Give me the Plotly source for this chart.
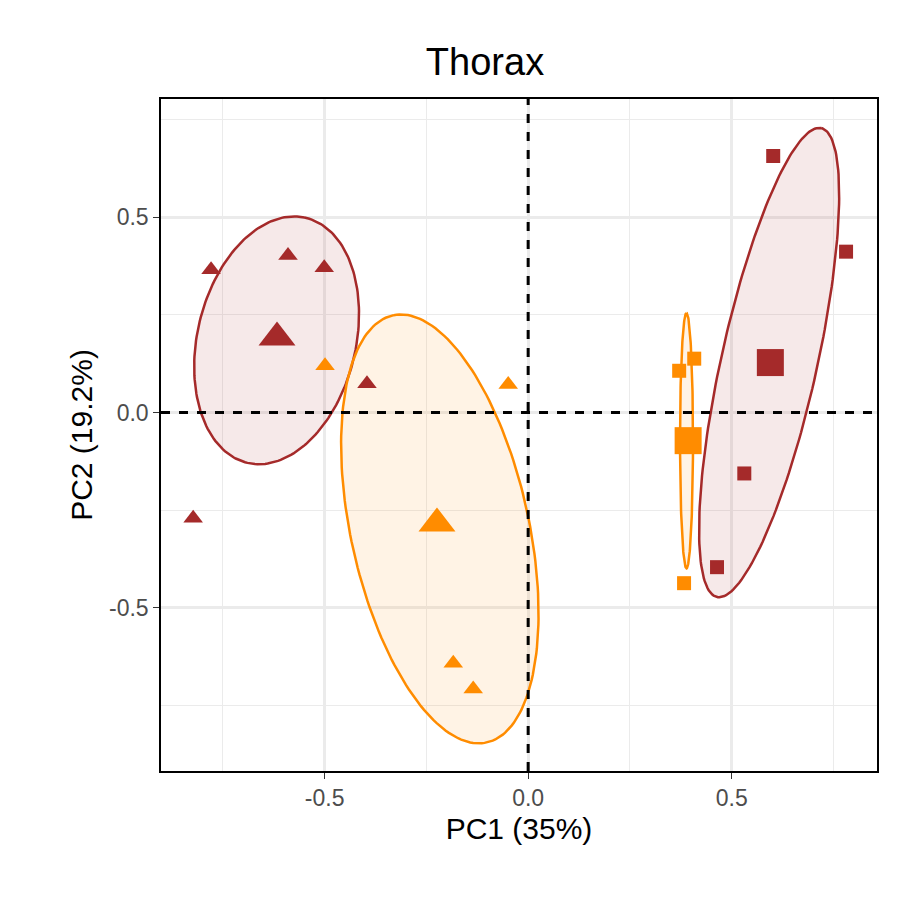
import numpy as np
import plotly.graph_objects as go

RED = "#A52A2A"
ORANGE = "#FF8C00"

# points
red_tri_x = [-0.779, -0.590, -0.501, -0.396, -0.823]
red_tri_y = [0.366, 0.402, 0.371, 0.074, -0.271]
org_tri_x = [-0.499, -0.049, -0.184, -0.135]
org_tri_y = [0.120, 0.072, -0.642, -0.708]
org_sq_x = [0.371, 0.408, 0.383]
org_sq_y = [0.107, 0.138, -0.437]
red_sq_x = [0.602, 0.781, 0.531, 0.464]
red_sq_y = [0.657, 0.412, -0.156, -0.396]

# centroids
cent_x = [-0.617, -0.224, 0.393, 0.595]
cent_y = [0.192, -0.284, -0.072, 0.128]
cent_col = [RED, ORANGE, ORANGE, RED]
cent_sym = ["triangle-up", "triangle-up", "square", "square"]

# ellipses: center x, center y, semi-major, semi-minor, angle (deg), colour
ell_cx = [-0.618, -0.217, 0.389, 0.592]
ell_cy = [0.185, -0.298, -0.072, 0.128]
ell_a = [0.322, 0.559, 0.327, 0.614]
ell_b = [0.195, 0.219, 0.016, 0.118]
ell_ang = [77.7, 101.7, 90.0, 78.0]
ell_col = [RED, ORANGE, ORANGE, RED]
ell_fill = ["rgba(165,42,42,0.1)", "rgba(255,140,0,0.1)", "rgba(255,140,0,0.1)", "rgba(165,42,42,0.1)"]

tick_vals = [-0.5, 0.0, 0.5]
tick_text = ["-0.5", "0.0", "0.5"]

fig = go.Figure()
t = np.linspace(0, 2 * np.pi, 200)
for cx, cy, a, b, ang, c, f in zip(ell_cx, ell_cy, ell_a, ell_b, ell_ang, ell_col, ell_fill):
    th = np.deg2rad(ang)
    ex = cx + a * np.cos(t) * np.cos(th) - b * np.sin(t) * np.sin(th)
    ey = cy + a * np.cos(t) * np.sin(th) + b * np.sin(t) * np.cos(th)
    fig.add_trace(go.Scatter(x=ex, y=ey, mode="lines", fill="toself", fillcolor=f,
                             line=dict(color=c, width=2.5), hoverinfo="skip"))

def pts(x, y, col, sym, size):
    fig.add_trace(go.Scatter(x=x, y=y, mode="markers",
                             marker=dict(color=col, symbol=sym, size=size, line=dict(width=0))))

pts(red_tri_x, red_tri_y, RED, "triangle-up", 17)
pts(org_tri_x, org_tri_y, ORANGE, "triangle-up", 17)
pts(org_sq_x, org_sq_y, ORANGE, "square", 14)
pts(red_sq_x, red_sq_y, RED, "square", 14)
for x, y, c, s in zip(cent_x, cent_y, cent_col, cent_sym):
    pts([x], [y], c, s, 32 if s == "triangle-up" else 27)

fig.add_shape(type="line", x0=0, x1=0, y0=0, y1=1, yref="paper",
              line=dict(color="black", width=3, dash="dash"))
fig.add_shape(type="line", y0=0, y1=0, x0=0, x1=1, xref="paper",
              line=dict(color="black", width=3, dash="dash"))

axis_common = dict(showgrid=True, gridcolor="#EBEBEB", gridwidth=2.5,
                   minor=dict(showgrid=True, gridcolor="#EBEBEB", gridwidth=1.2, dtick=0.25, tick0=0),
                   zeroline=False, showline=True, linecolor="black", linewidth=1.5, mirror=True,
                   ticks="outside", tickcolor="#333333", ticklen=6,
                   tickfont=dict(size=23, color="#4D4D4D"),
                   tickvals=tick_vals, ticktext=tick_text)

fig.update_xaxes(range=[-0.902, 0.857], title=dict(text="PC1 (35%)", font=dict(size=30, color="black"), standoff=8), **axis_common)
fig.update_yaxes(range=[-0.918, 0.803], title=dict(text="PC2 (19.2%)", font=dict(size=30, color="black"), standoff=8), **axis_common)

fig.update_layout(width=900, height=900, showlegend=False,
                  plot_bgcolor="white", paper_bgcolor="white",
                  font=dict(family="Liberation Sans, Arial, sans-serif"),
                  margin=dict(l=153, r=31, t=91, b=137, autoexpand=False),
                  title=dict(text="Thorax", x=0.53, xanchor="center", y=0.955, font=dict(size=38, color="black")))
fig.write_html("out.html")
